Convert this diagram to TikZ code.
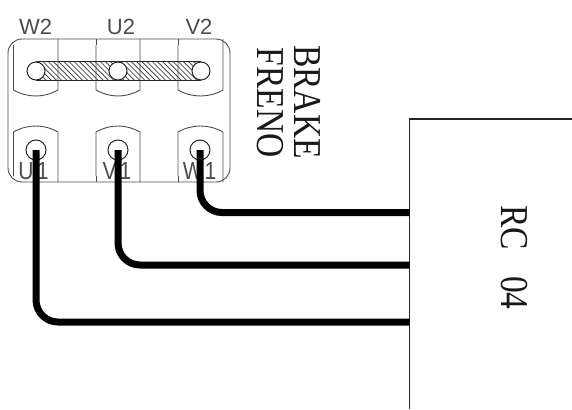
\documentclass[tikz,border=0pt]{standalone}
\usepackage{fontspec}
\setmainfont{Liberation Serif}
\newfontfamily\lblfont{Liberation Sans}
\tikzset{
  thin line/.style={draw=black!70,line width=0.9pt},
  term/.style={circle,draw=black!85,line width=1pt,fill=white,minimum size=#1,inner sep=0pt},
  wire/.style={draw=black,line width=7pt,rounded corners=22pt,line cap=butt},
  lbl/.style={font=\lblfont\fontsize{22}{22}\selectfont,text=black!70,inner sep=0pt},
  lbls/.style={font=\lblfont\fontsize{21}{21}\selectfont,text=black!70,inner sep=0pt},
  vtext/.style={rotate=-90,inner sep=0pt,font=\fontsize{33.5}{33.5}\selectfont,text=black!90},
}
\newcommand{\tallish}[1]{\scalebox{1}[1.18]{#1}}
\begin{document}
\begin{tikzpicture}[x=1pt,y=-1pt]
\useasboundingbox (0,0) rectangle (572,409);
% terminal block
\draw[thin line,rounded corners=14pt] (8,39) rectangle (230,182);
\foreach \a/\b in {13.5/58,96/140,178/223}{
  \draw[thin line] (\a,45) -- (\a,90) .. controls (\a+14,98) and (\b-14,98) .. (\b,90) -- (\b,39);
  \draw[thin line] (\a,176) -- (\a,132) .. controls (\a+14,124) and (\b-14,124) .. (\b,132) -- (\b,182);
}
\draw[thin line] (96,39) -- (96,45);
\draw[thin line] (178,39) -- (178,45);
\draw[thin line] (96,176) -- (96,182);
\draw[thin line] (178,176) -- (178,182);
% hatched link
\begin{scope}
  \clip (36,61.5) rectangle (201,80.5);
  \foreach \k in {0,5.2,...,220}{
    \draw[black!70,line width=0.8pt] (\k,55) -- (\k+32,87);
  }
\end{scope}
\draw[black!85,line width=1pt] (36,61.5) -- (201,61.5);
\draw[black!85,line width=1pt] (36,80.5) -- (201,80.5);
\node[term=18pt] (lw) at (36,71) {};
\node[term=18pt] (lu) at (118,71) {};
\node[term=18pt] (lv) at (201,71) {};
% labels
\node[lbl] (w2) at (35.5,27) {W2};
\node[lbl] (u2) at (121,27) {U2};
\node[lbl] (v2) at (199,27) {V2};
\node[lbls] (u1) at (33.5,171) {\tallish{U\hspace{3.5pt}1}};
\node[lbls] (v1) at (117,171) {\tallish{V\hspace{3pt}1}};
\node[lbls] (w1) at (199.5,171) {\tallish{W\hspace{2pt}1}};
% lower terminals
\node[term=20pt,fill=none] (tu) at (36,150) {};
\node[term=20pt,fill=none] (tv) at (118,150) {};
\node[term=20pt,fill=none] (tw) at (200,150) {};
% RC box
\draw[black!85,line width=1.3pt] (572,119) -- (409.5,119) -- (409.5,409);
\coordinate (p1) at (409.5,212.5);
\coordinate (p2) at (409.5,265);
\coordinate (p3) at (409.5,322);
% wires
\draw[wire] (tw.center) -- (tw.center |- p1) -- (p1);
\draw[wire] (tv.center) -- (tv.center |- p2) -- (p2);
\draw[wire] (tu.center) -- (tu.center |- p3) -- (p3);
% rotated text
\node[vtext] (brake) at (307,102) {\tallish{BRAKE}};
\node[vtext] (freno) at (270,102.5) {\tallish{FRENO}};
\node[vtext] (rc) at (514.5,257.5) {\tallish{RC\hspace{26pt}04}};
\end{tikzpicture}
\end{document}
